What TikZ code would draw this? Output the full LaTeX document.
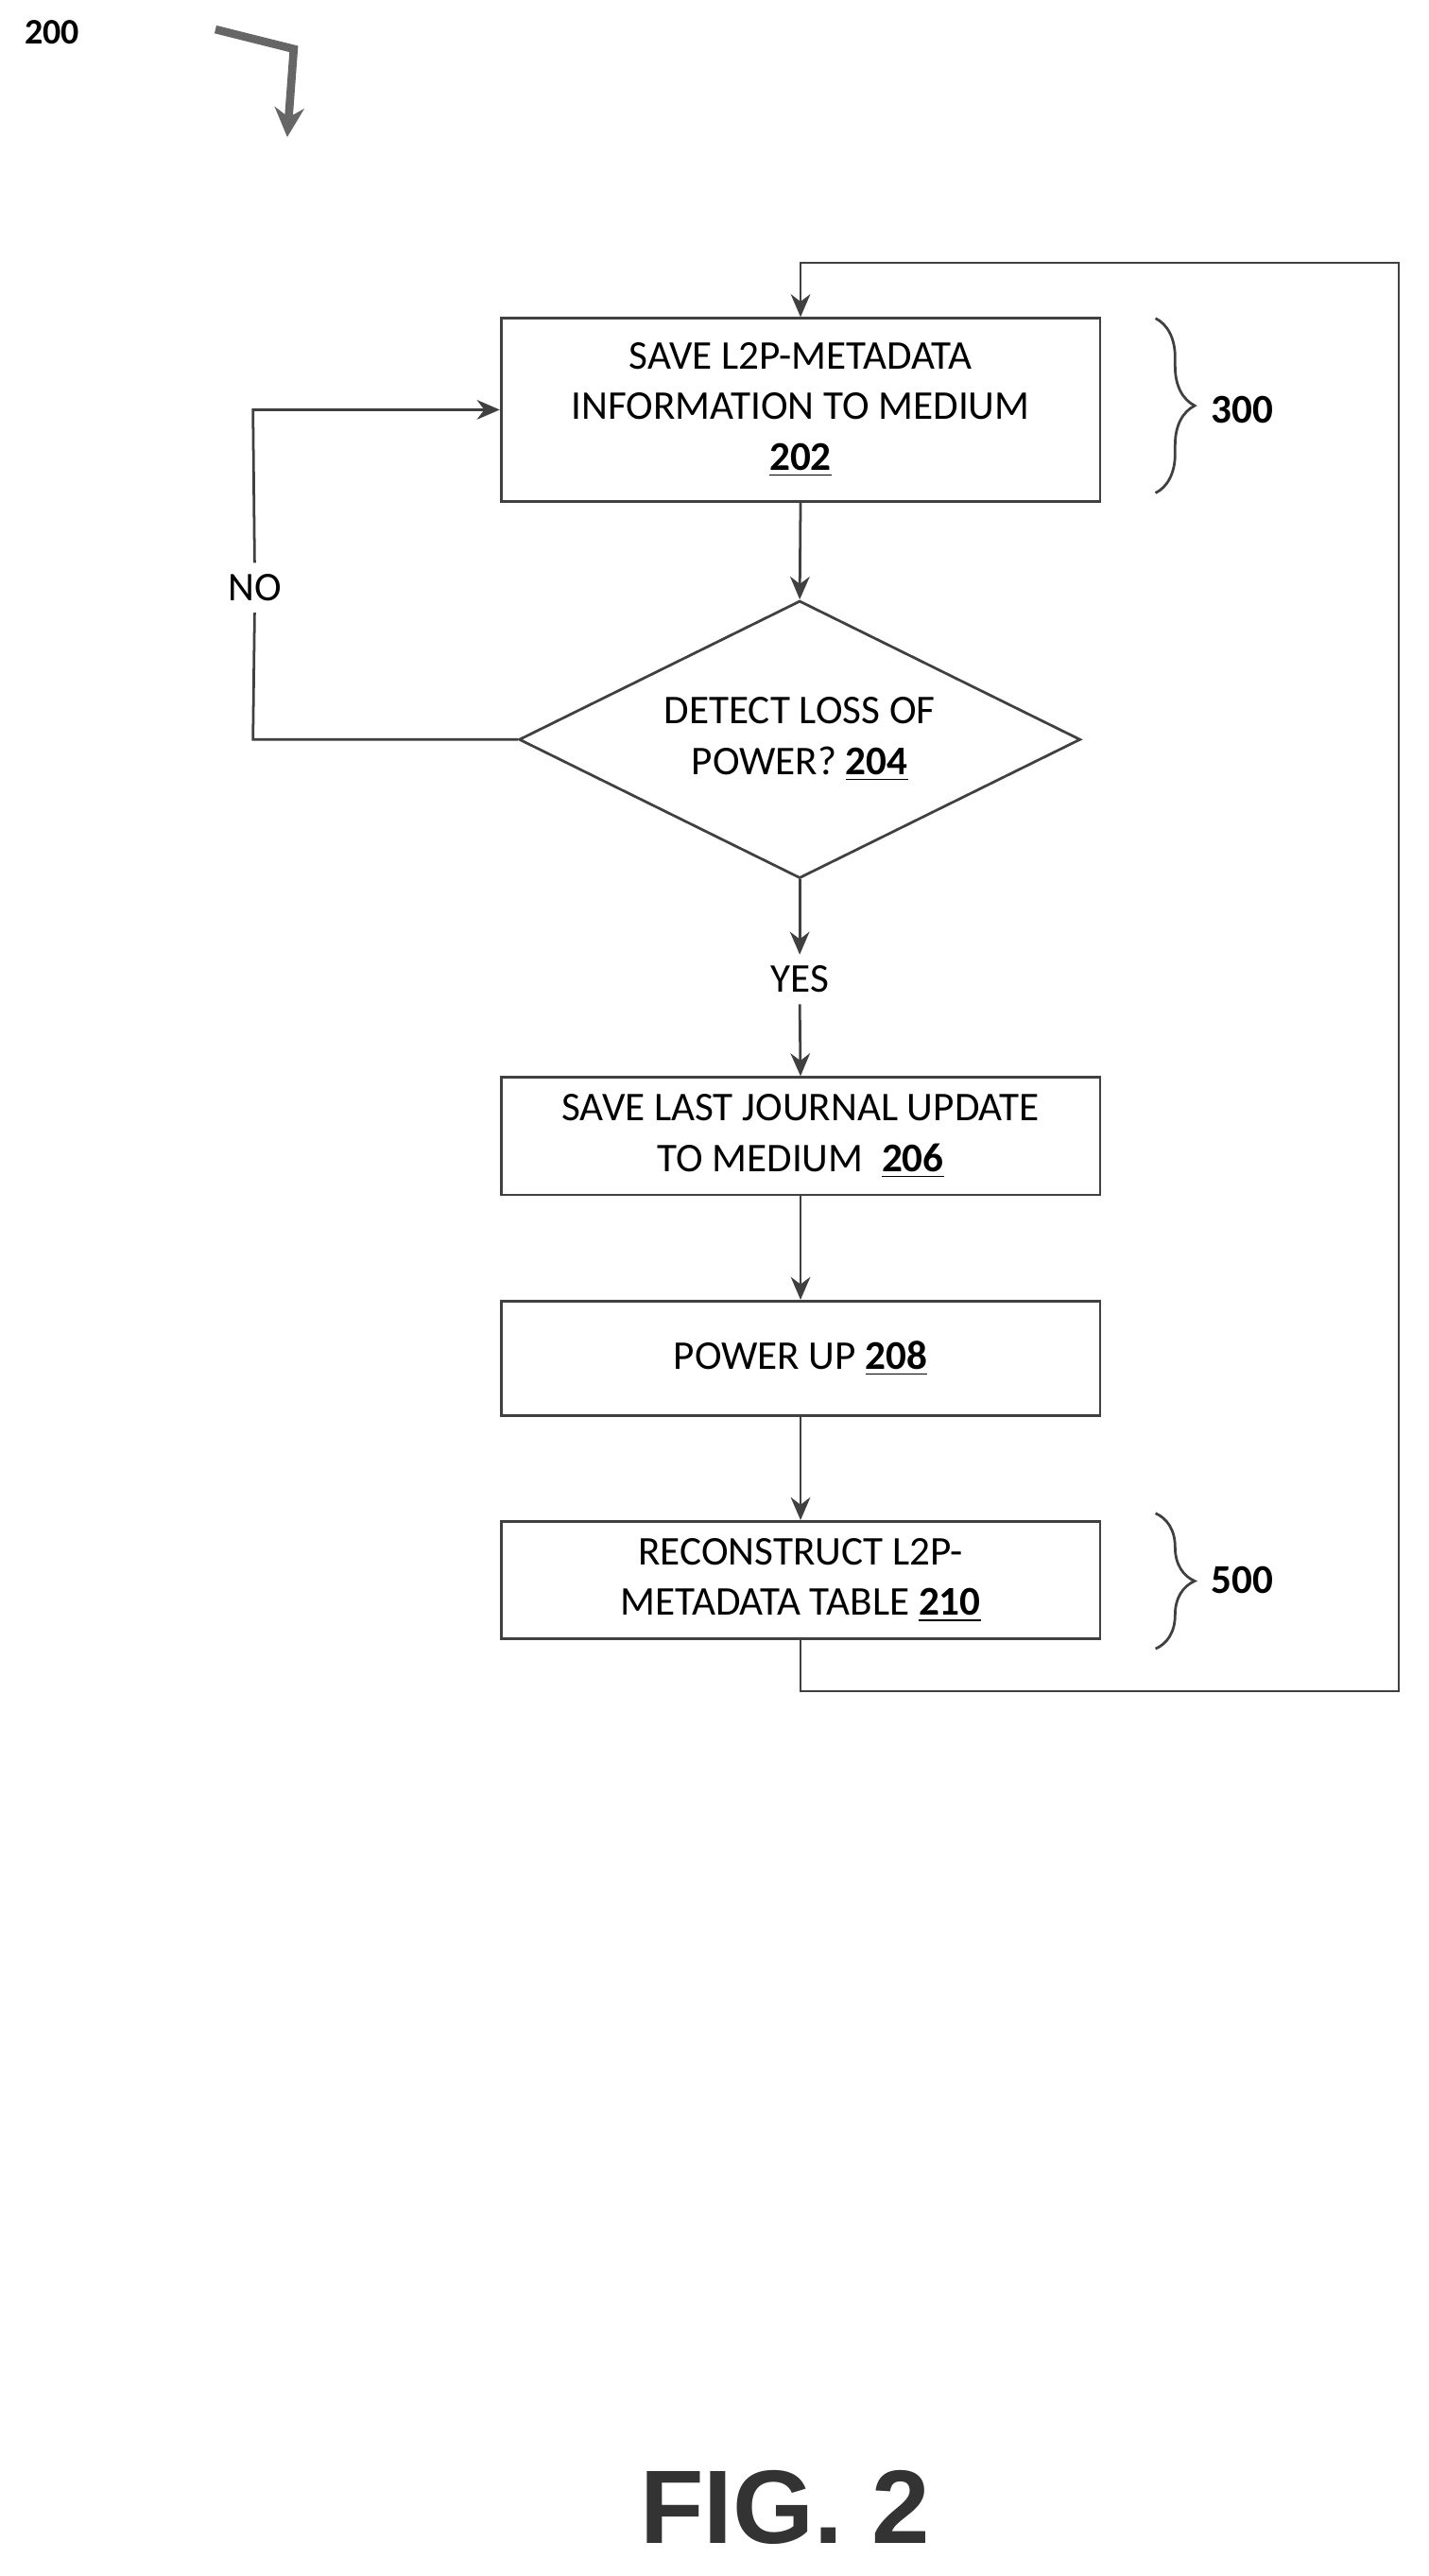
\documentclass[tikz,border=0pt]{standalone}
\usepackage{fontspec}
\setmainfont{Carlito}
\newfontfamily\figfont{Liberation Sans}
\usetikzlibrary{shapes.geometric,arrows.meta,decorations.pathreplacing}
\begin{document}
\begin{tikzpicture}[x=0.5pt,y=-0.5pt,
  ln/.style={draw=black!75,line width=0.8pt},
  arr/.style={ln,-{Stealth[length=7pt,width=6pt]}},
  box/.style={ln,rectangle,minimum width=183.5pt,align=center,font=\fontsize{12.5}{15.5}\selectfont,inner sep=0pt},
  lbl/.style={font=\fontsize{12.5}{15}\selectfont}]
\useasboundingbox (0,0) rectangle (875,1578);
\node[font=\bfseries\fontsize{11}{13}\selectfont] (n200) at (32,20) {200};
\draw[line width=2.5pt,black!60,-{Stealth[length=9pt,width=9pt]}] (132,18) -- (180,30) -- (176,84);
\node[box,minimum height=56pt] (b202) at (490.5,251) {SAVE L2P-METADATA\\INFORMATION TO MEDIUM\\\textbf{\underline{202}}};
\node[ln,diamond,aspect=2.02,minimum width=172pt,minimum height=85pt,inner sep=0pt,align=center,font=\fontsize{12.5}{15.5}\selectfont] (d204) at (490,453) {DETECT LOSS OF\\POWER? \textbf{\underline{204}}};
\node[box,minimum height=36pt] (b206) at (490.5,696) {SAVE LAST JOURNAL UPDATE\\TO MEDIUM\ \ \textbf{\underline{206}}};
\node[box,minimum height=35pt] (b208) at (490.5,832) {POWER UP \textbf{\underline{208}}};
\node[box,minimum height=36pt] (b210) at (490.5,968) {RECONSTRUCT L2P-\\METADATA TABLE \textbf{\underline{210}}};
\node[lbl] (yes) at (490,600) {YES};
\node[lbl] (no) at (156,360) {NO};
\draw[arr] (b202.south) -- (d204.north);
\draw[arr] (d204.south) -- (yes.north);
\draw[arr] (yes.south) -- (b206.north);
\draw[arr] (b206.south) -- (b208.north);
\draw[arr] (b208.south) -- (b210.north);
\draw[ln] (d204.west) -- (155,453) -- (no.south);
\draw[arr] (no.north) -- (155,251) -- (b202.west);
\coordinate (c1) at (490.5,1036);
\coordinate (c2) at (857,1036);
\coordinate (c3) at (857,161);
\coordinate (c4) at (490.5,161);
\draw[arr] (b210.south) -- (c1) -- (c2) -- (c3) -- (c4) -- (b202.north);
\draw[ln,decorate,decoration={brace,amplitude=12pt}] (708,195) -- (708,302);
\node[lbl,font=\bfseries\fontsize{12.5}{15}\selectfont] (l300) at (761,251) {300};
\draw[ln,decorate,decoration={brace,amplitude=12pt}] (708,927) -- (708,1010);
\node[lbl,font=\bfseries\fontsize{12.5}{15}\selectfont] (l500) at (761,968) {500};
\node[font=\figfont\bfseries\fontsize{32}{36}\selectfont,text=black!80] (fig) at (481,1536) {FIG. 2};
\end{tikzpicture}
\end{document}
